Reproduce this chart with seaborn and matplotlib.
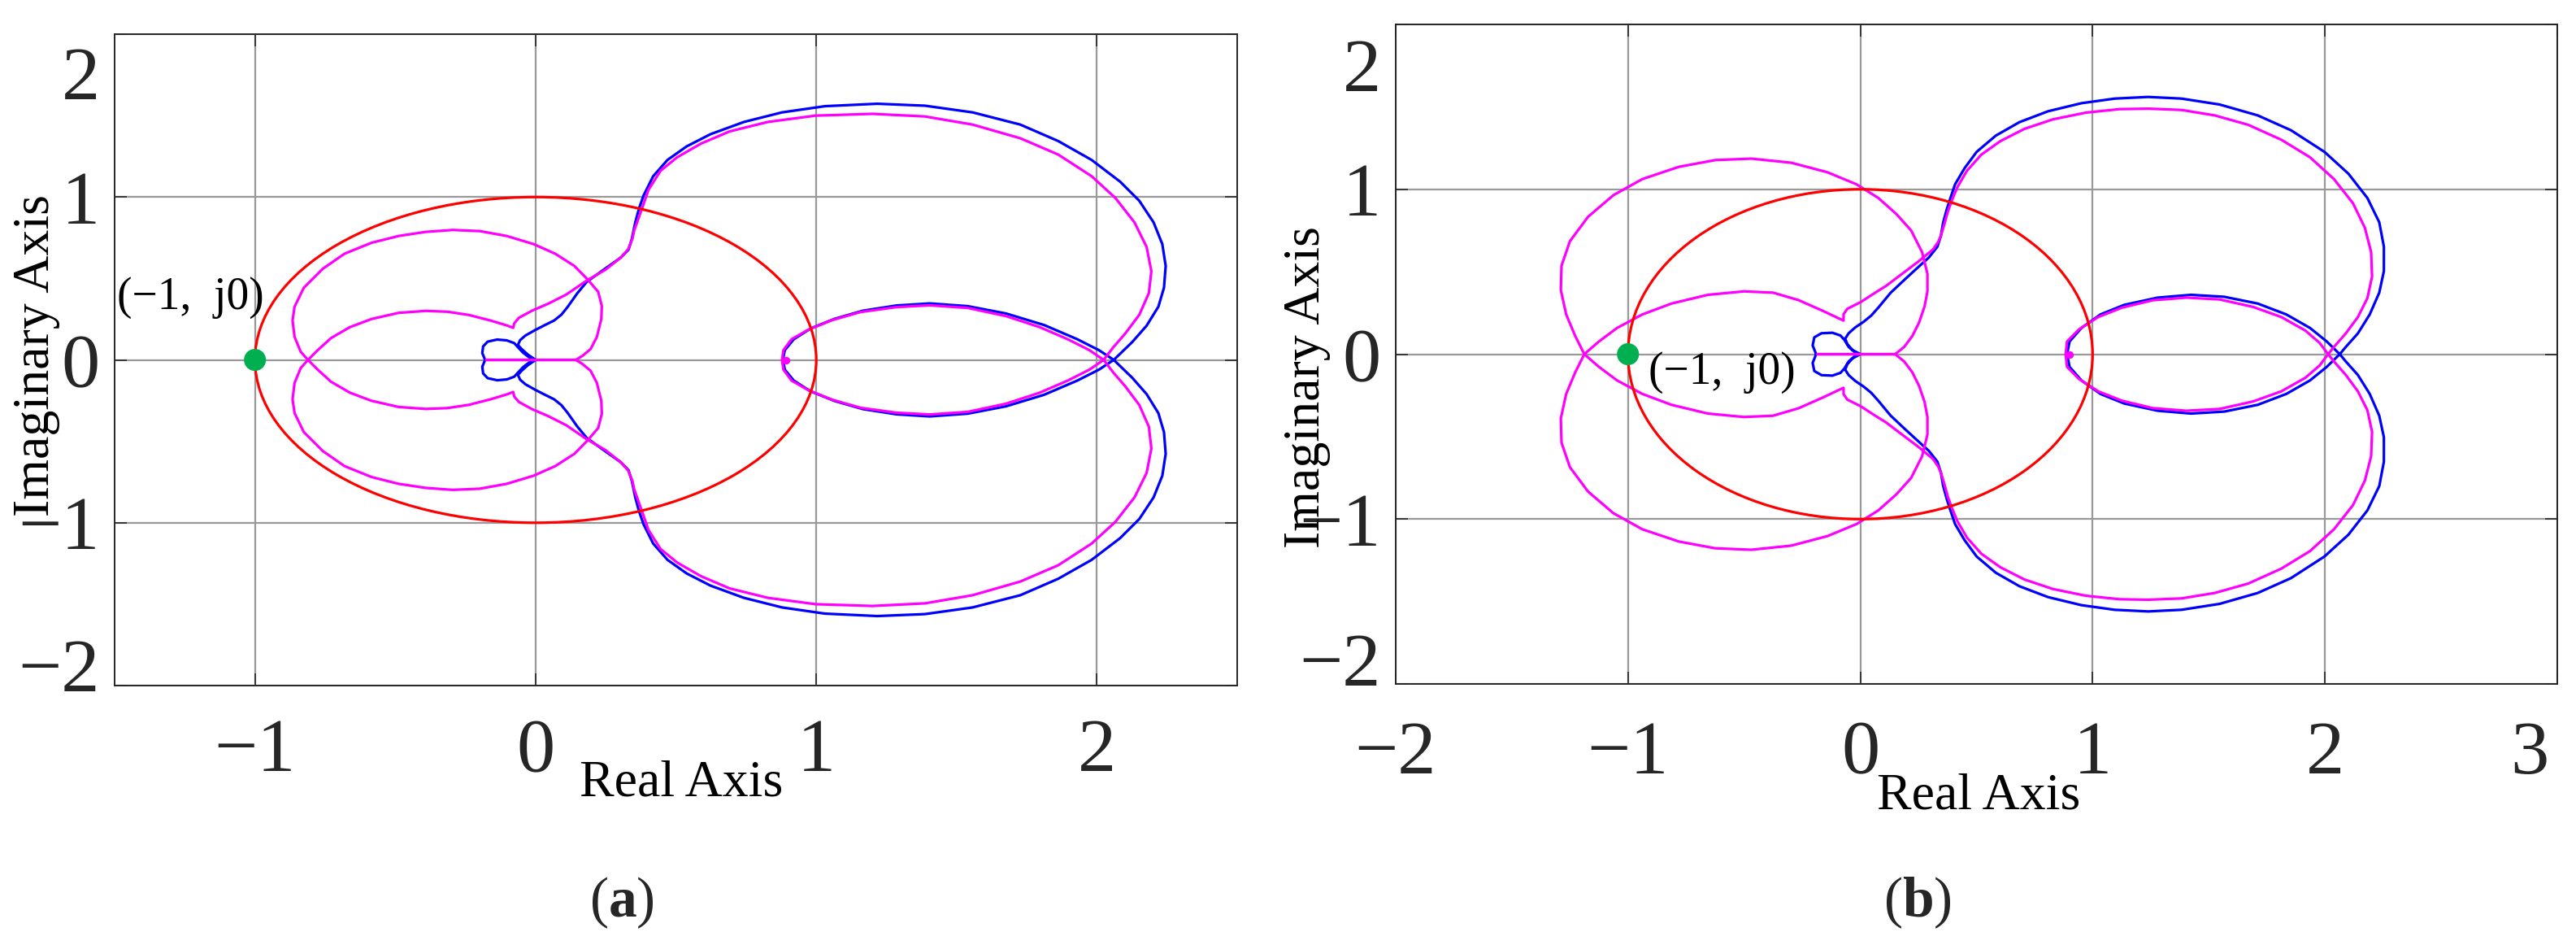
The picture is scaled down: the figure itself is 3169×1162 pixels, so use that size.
import numpy as np
import matplotlib
matplotlib.use("Agg")
import matplotlib.pyplot as plt
import seaborn as sns
from matplotlib.patches import Circle
from matplotlib.transforms import ScaledTranslation

# Upper half (Im >= 0) of each Nyquist curve.
# The lower half is the mirror image (conjugate symmetry).

# ---------- panel (a) ----------
blue_a_x = [-0.180, -0.190, -0.187, -0.171, -0.137, -0.103, -0.076, -0.063, -0.045, -0.024, 0.000,
            -0.028, -0.050, -0.063, -0.055, -0.036, -0.002, 0.032, 0.066, 0.092, 0.114, 0.148,
            0.182, 0.249, 0.304, 0.331, 0.343, 0.355, 0.368, 0.385, 0.419, 0.470, 0.538, 0.623,
            0.742, 0.878, 1.031, 1.217, 1.387, 1.557, 1.727, 1.862, 1.981, 2.083, 2.151, 2.202,
            2.233, 2.245, 2.239, 2.219, 2.177, 2.126, 2.060,
            2.007, 1.930, 1.812, 1.676, 1.540, 1.404, 1.285, 1.166, 1.065, 0.980, 0.920, 0.888, 0.881]
blue_a_y = [0.000, 0.042, 0.083, 0.112, 0.125, 0.120, 0.103, 0.078, 0.045, 0.017, 0.000,
            0.033, 0.067, 0.092, 0.122, 0.150, 0.183, 0.213, 0.242, 0.278, 0.325, 0.408,
            0.479, 0.562, 0.629, 0.677, 0.744, 0.844, 0.927, 1.011, 1.128, 1.228, 1.311, 1.386,
            1.461, 1.520, 1.558, 1.573, 1.561, 1.520, 1.445, 1.344, 1.228, 1.094, 0.977, 0.844,
            0.711, 0.577, 0.444, 0.327, 0.210, 0.110, 0.000,
            0.060, 0.127, 0.214, 0.285, 0.330, 0.347, 0.334, 0.302, 0.252, 0.193, 0.127, 0.060, 0.000]

mag_a_x = [-0.176, 0.143, 0.167, 0.196, 0.218, 0.234, 0.236, 0.223, 0.186, 0.138, 0.070, -0.007,
           -0.103, -0.199, -0.296, -0.392, -0.488, -0.585, -0.681, -0.758, -0.826, -0.859, -0.866,
           -0.859, -0.837, -0.811,
           -0.777, -0.729, -0.662, -0.585, -0.488, -0.392, -0.315, -0.238, -0.161, -0.103, -0.080,
           -0.076, -0.060, -0.012, 0.046, 0.109, 0.182, 0.249, 0.304, 0.330, 0.345, 0.351, 0.365,
           0.382, 0.402, 0.445, 0.504, 0.589, 0.691, 0.827, 0.997, 1.200, 1.387, 1.557, 1.727,
           1.862, 1.981, 2.066, 2.134, 2.177, 2.194, 2.185, 2.151, 2.100, 2.058, 2.024,
           1.973, 1.896, 1.795, 1.676, 1.540, 1.404, 1.285, 1.158, 1.056, 0.971, 0.912, 0.883, 0.878]
mag_a_y = [0.000, 0.000, 0.025, 0.067, 0.140, 0.250, 0.330, 0.418, 0.493, 0.577, 0.652, 0.711,
           0.761, 0.791, 0.798, 0.786, 0.761, 0.719, 0.652, 0.560, 0.443, 0.326, 0.242,
           0.142, 0.050, 0.000,
           0.059, 0.134, 0.201, 0.251, 0.289, 0.301, 0.296, 0.276, 0.242, 0.212, 0.197,
           0.225, 0.258, 0.303, 0.346, 0.401, 0.487, 0.554, 0.629, 0.680, 0.744, 0.794, 0.861,
           0.944, 1.044, 1.161, 1.244, 1.328, 1.403, 1.461, 1.500, 1.511, 1.495, 1.445, 1.361,
           1.261, 1.128, 0.994, 0.844, 0.694, 0.544, 0.410, 0.277, 0.160, 0.077, 0.000,
           0.060, 0.127, 0.202, 0.269, 0.319, 0.335, 0.324, 0.294, 0.244, 0.185, 0.127, 0.060, 0.000]

# ---------- panel (b) ----------
blue_b_x = [-0.190, -0.205, -0.198, -0.167, -0.120, -0.085, -0.068, -0.050, -0.027, 0.000,
            -0.033, -0.056, -0.065, -0.050, -0.021, 0.014, 0.047, 0.078, 0.107, 0.131,
            0.193, 0.244, 0.295, 0.332, 0.347, 0.357, 0.373, 0.388, 0.408, 0.449, 0.501, 0.583,
            0.685, 0.808, 0.952, 1.095, 1.239, 1.383, 1.547, 1.711, 1.854, 1.998, 2.101, 2.183,
            2.234, 2.254, 2.254, 2.234, 2.193, 2.142, 2.090, 2.064,
            2.008, 1.936, 1.834, 1.711, 1.567, 1.424, 1.280, 1.136, 1.034, 0.952, 0.901, 0.890]
blue_b_y = [0.000, 0.053, 0.102, 0.127, 0.130, 0.113, 0.086, 0.044, 0.016, 0.000,
            0.025, 0.061, 0.094, 0.127, 0.163, 0.196, 0.234, 0.283, 0.332, 0.373,
            0.455, 0.521, 0.586, 0.652, 0.718, 0.800, 0.882, 0.947, 1.030, 1.128, 1.227, 1.325,
            1.407, 1.473, 1.522, 1.550, 1.560, 1.550, 1.514, 1.448, 1.358, 1.227, 1.095, 0.947,
            0.800, 0.652, 0.504, 0.373, 0.241, 0.126, 0.044, 0.000,
            0.077, 0.159, 0.241, 0.307, 0.348, 0.360, 0.343, 0.299, 0.241, 0.159, 0.077, 0.000]

mag_b_x = [-0.184, 0.150, 0.189, 0.224, 0.253, 0.277, 0.289, 0.289, 0.266, 0.219, 0.156, 0.078,
           -0.016, -0.141, -0.297, -0.469, -0.625, -0.781, -0.938, -1.063, -1.172, -1.250, -1.286,
           -1.289, -1.266, -1.227, -1.188,
           -1.125, -1.047, -0.938, -0.813, -0.656, -0.500, -0.375, -0.266, -0.160, -0.100, -0.072,
           -0.072, -0.056, 0.002, 0.061, 0.111, 0.172, 0.250, 0.313, 0.335, 0.347, 0.361, 0.377,
           0.394, 0.418, 0.459, 0.521, 0.603, 0.706, 0.829, 0.972, 1.116, 1.239, 1.383, 1.526,
           1.670, 1.813, 1.936, 2.039, 2.121, 2.172, 2.199, 2.203, 2.183, 2.142, 2.090, 2.039, 2.014,
           1.977, 1.916, 1.813, 1.690, 1.547, 1.403, 1.259, 1.126, 1.024, 0.942, 0.890, 0.884]
mag_b_y = [0.000, 0.000, 0.044, 0.110, 0.192, 0.291, 0.380, 0.488, 0.619, 0.750, 0.849, 0.947,
           1.030, 1.103, 1.161, 1.186, 1.177, 1.136, 1.062, 0.964, 0.833, 0.685, 0.537,
           0.389, 0.241, 0.110, 0.000,
           0.077, 0.159, 0.241, 0.307, 0.360, 0.381, 0.373, 0.328, 0.262, 0.222, 0.204,
           0.242, 0.275, 0.316, 0.370, 0.414, 0.479, 0.562, 0.635, 0.680, 0.718, 0.783, 0.865,
           0.931, 1.013, 1.112, 1.210, 1.292, 1.366, 1.424, 1.465, 1.486, 1.489, 1.481, 1.448,
           1.391, 1.300, 1.194, 1.062, 0.915, 0.767, 0.619, 0.471, 0.340, 0.225, 0.126, 0.044, 0.000,
           0.069, 0.143, 0.225, 0.287, 0.332, 0.343, 0.327, 0.282, 0.225, 0.151, 0.077, 0.000]

critical_point = (-1.0, 0.0)
mag_dot_a = (0.891, 0.0)
mag_dot_b = (0.900, 0.0)
unit_radius = 1.0

sns.set_theme(style="white")
SERIF = ['Liberation Serif', 'DejaVu Serif']
plt.rcParams['font.family'] = SERIF
plt.rcParams['font.serif'] = SERIF
plt.rcParams['mathtext.fontset'] = 'custom'
plt.rcParams['mathtext.rm'] = 'Liberation Serif'
plt.rcParams['mathtext.bf'] = 'Liberation Serif:bold'

BLUE, MAGENTA, RED, GREEN = '#0000FF', '#FF00FF', '#FF0000', '#00B050'
LW = 2.3


def draw_curve(ax, xs, ys, color):
    x = np.asarray(xs)
    y = np.asarray(ys)
    full_x = np.concatenate([x, x[::-1]])
    full_y = np.concatenate([y, -y[::-1]])
    sns.lineplot(x=full_x, y=full_y, sort=False, estimator=None, color=color, lw=LW,
                 solid_joinstyle='round', ax=ax)


def style_axes(ax, xlim, xticks, xpad):
    ax.set_xlim(*xlim)
    ax.set_ylim(-2, 2)
    ax.set_xticks(xticks)
    ax.set_yticks([-2, -1, 0, 1, 2])
    ax.grid(True, color='#999999', lw=1.6)
    ax.set_axisbelow(True)
    for sp in ax.spines.values():
        sp.set_visible(True)
        sp.set_color('#262626')
        sp.set_linewidth(1.4)
    ax.tick_params(direction='in', length=11, width=1.2, colors='#262626',
                   bottom=True, left=True, top=True, right=True, labelsize=68)
    ax.tick_params(axis='x', pad=xpad)
    ax.tick_params(axis='y', pad=13)
    for lbl in ax.get_xticklabels() + ax.get_yticklabels():
        lbl.set_fontfamily(SERIF)


fig = plt.figure(figsize=(31.69, 11.62), dpi=100)
ax_a = fig.add_axes([0.0445, 0.2745, 0.4358, 0.6893])
ax_b = fig.add_axes([0.5418, 0.2762, 0.4509, 0.6980])

panels = [
    (ax_a, blue_a_x, blue_a_y, mag_a_x, mag_a_y, mag_dot_a),
    (ax_b, blue_b_x, blue_b_y, mag_b_x, mag_b_y, mag_dot_b),
]
for ax, bx, by, mx, my, mdot in panels:
    draw_curve(ax, bx, by, BLUE)
    draw_curve(ax, mx, my, MAGENTA)
    ax.scatter([mdot[0]], [mdot[1]], s=45, color=MAGENTA, zorder=4, linewidths=0)
    ax.add_patch(Circle((0, 0), unit_radius, fill=False, ec=RED, lw=LW, zorder=5))
    sns.scatterplot(x=[critical_point[0]], y=[critical_point[1]], s=380, color=GREEN,
                    edgecolor='none', zorder=6, ax=ax, legend=False)

style_axes(ax_a, (-1.5, 2.5), [-1, 0, 1, 2], 29)
style_axes(ax_b, (-2, 3), [-2, -1, 0, 1, 2, 3], 32)

# labels
ax_a.set_xlabel('Real Axis', fontsize=46, color='black', va='center')
ax_a.xaxis.set_label_coords(0.505, -0.150)
ax_a.set_ylabel('Imaginary Axis', fontsize=46, color='black', va='center')
ax_a.yaxis.set_label_coords(-0.0695, 0.507)

ax_b.set_xlabel('Real Axis', fontsize=46, color='black', va='center')
ax_b.xaxis.set_label_coords(0.502, -0.171)
ax_b.set_ylabel('Imaginary Axis', fontsize=46, color='black', va='center')
ax_b.yaxis.set_label_coords(-0.076, 0.45)

ax_a.text(-1.49, 0.38, '(\u22121,  j0)', fontsize=40, ha='left', va='center', color='black')
ax_b.text(-0.91, -0.11, '(\u22121,  j0)', fontsize=40, ha='left', va='center', color='black')

fig.text(765 / 3169, 1 - 1110 / 1162, r'($\mathbf{a}$)', fontsize=50, ha='center', va='center')
fig.text(2359 / 3169, 1 - 1110 / 1162, r'($\mathbf{b}$)', fontsize=50, ha='center', va='center')


def shift(label, dx_px, dy_px):
    label.set_transform(label.get_transform() + ScaledTranslation(dx_px / 100, dy_px / 100, fig.dpi_scale_trans))


ya = ax_a.get_yticklabels()
shift(ya[0], 0, 26)
shift(ya[-1], 0, -47)
yb = ax_b.get_yticklabels()
shift(yb[0], 0, 31)
shift(yb[-1], 0, -50)
xb = ax_b.get_xticklabels()
shift(xb[-1], -34, 0)

fig.savefig('out.png', dpi=100, facecolor='white')
